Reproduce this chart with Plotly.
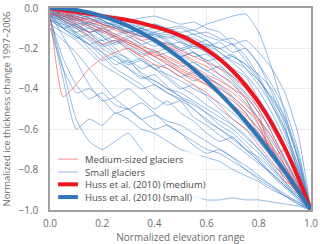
import plotly.graph_objects as go

# normalized elevation grid (0 = top, 1 = terminus)
x_grid = [round(i * 0.05, 2) for i in range(21)]

# Small glaciers: normalized ice thickness change
small_glaciers = [
    [0.00, -0.02, -0.03, -0.05, -0.07, -0.08, -0.07, -0.10, -0.12, -0.10, -0.09, -0.11, -0.08, -0.06, -0.04, -0.03, -0.12, -0.30, -0.52, -0.75, -1.00],
    [-0.05, -0.30, -0.55, -0.66, -0.70, -0.66, -0.62, -0.70, -0.78, -0.85, -0.90, -0.93, -0.95, -0.95, -0.94, -0.95, -0.95, -0.96, -0.97, -0.98, -1.00],
    [-0.05, -0.35, -0.60, -0.55, -0.58, -0.52, -0.55, -0.60, -0.62, -0.66, -0.70, -0.72, -0.74, -0.76, -0.80, -0.83, -0.86, -0.90, -0.93, -0.96, -1.00],
    [0.00, -0.01, -0.02, -0.03, -0.04, -0.05, -0.06, -0.08, -0.09, -0.11, -0.13, -0.15, -0.18, -0.22, -0.27, -0.33, -0.41, -0.52, -0.65, -0.80, -1.00],
    [-0.02, -0.03, -0.05, -0.04, -0.06, -0.09, -0.08, -0.10, -0.14, -0.13, -0.16, -0.20, -0.19, -0.24, -0.30, -0.34, -0.45, -0.55, -0.68, -0.84, -1.00],
    [-0.01, -0.04, -0.06, -0.08, -0.07, -0.10, -0.12, -0.11, -0.15, -0.18, -0.17, -0.22, -0.26, -0.25, -0.30, -0.38, -0.48, -0.58, -0.70, -0.85, -1.00],
    [-0.03, -0.05, -0.04, -0.07, -0.09, -0.08, -0.12, -0.14, -0.13, -0.17, -0.20, -0.24, -0.23, -0.28, -0.35, -0.42, -0.50, -0.62, -0.74, -0.87, -1.00],
    [0.00, -0.02, -0.05, -0.09, -0.12, -0.10, -0.14, -0.18, -0.16, -0.20, -0.24, -0.22, -0.27, -0.33, -0.37, -0.45, -0.55, -0.66, -0.76, -0.88, -1.00],
    [-0.02, -0.04, -0.06, -0.05, -0.08, -0.07, -0.06, -0.09, -0.08, -0.10, -0.12, -0.11, -0.14, -0.16, -0.15, -0.20, -0.28, -0.38, -0.50, -0.70, -1.00],
    [-0.04, -0.06, -0.05, -0.08, -0.10, -0.09, -0.12, -0.10, -0.08, -0.11, -0.10, -0.13, -0.16, -0.20, -0.18, -0.24, -0.34, -0.46, -0.60, -0.78, -1.00],
    [-0.03, -0.10, -0.14, -0.18, -0.16, -0.22, -0.25, -0.30, -0.28, -0.34, -0.39, -0.43, -0.48, -0.52, -0.58, -0.64, -0.70, -0.77, -0.84, -0.92, -1.00],
    [-0.06, -0.08, -0.10, -0.07, -0.06, -0.09, -0.12, -0.10, -0.13, -0.12, -0.15, -0.18, -0.16, -0.22, -0.26, -0.30, -0.36, -0.45, -0.56, -0.74, -1.00],
    [-0.04, -0.07, -0.13, -0.20, -0.26, -0.24, -0.30, -0.35, -0.33, -0.39, -0.44, -0.47, -0.52, -0.58, -0.62, -0.68, -0.75, -0.82, -0.88, -0.94, -1.00],
    [-0.04, -0.08, -0.12, -0.10, -0.14, -0.18, -0.16, -0.20, -0.24, -0.22, -0.26, -0.30, -0.34, -0.38, -0.44, -0.50, -0.58, -0.68, -0.78, -0.89, -1.00],
    [-0.06, -0.10, -0.08, -0.12, -0.16, -0.14, -0.18, -0.22, -0.26, -0.30, -0.34, -0.32, -0.37, -0.42, -0.48, -0.55, -0.62, -0.70, -0.80, -0.90, -1.00],
    [-0.02, -0.06, -0.10, -0.15, -0.20, -0.24, -0.28, -0.26, -0.30, -0.33, -0.36, -0.40, -0.43, -0.47, -0.52, -0.58, -0.66, -0.74, -0.83, -0.92, -1.00],
    [-0.05, -0.25, -0.38, -0.45, -0.42, -0.48, -0.50, -0.47, -0.52, -0.58, -0.62, -0.66, -0.70, -0.72, -0.76, -0.80, -0.85, -0.89, -0.93, -0.97, -1.00],
    [-0.08, -0.12, -0.16, -0.22, -0.28, -0.32, -0.36, -0.40, -0.38, -0.42, -0.45, -0.48, -0.52, -0.56, -0.60, -0.66, -0.72, -0.79, -0.86, -0.93, -1.00],
    [-0.01, -0.03, -0.04, -0.03, -0.05, -0.04, -0.06, -0.05, -0.04, -0.06, -0.08, -0.07, -0.10, -0.12, -0.18, -0.26, -0.35, -0.48, -0.62, -0.80, -1.00],
    [-0.03, -0.07, -0.09, -0.12, -0.10, -0.13, -0.11, -0.14, -0.12, -0.15, -0.13, -0.16, -0.19, -0.17, -0.22, -0.20, -0.28, -0.42, -0.58, -0.82, -1.00],
    [-0.02, -0.05, -0.08, -0.07, -0.11, -0.14, -0.12, -0.16, -0.19, -0.17, -0.21, -0.19, -0.22, -0.26, -0.24, -0.28, -0.36, -0.44, -0.54, -0.72, -1.00],
    [-0.06, -0.10, -0.15, -0.13, -0.18, -0.23, -0.27, -0.25, -0.30, -0.35, -0.40, -0.38, -0.44, -0.50, -0.55, -0.60, -0.66, -0.74, -0.82, -0.91, -1.00],
    [-0.01, -0.03, -0.08, -0.12, -0.18, -0.16, -0.21, -0.26, -0.30, -0.28, -0.32, -0.36, -0.34, -0.39, -0.45, -0.52, -0.60, -0.70, -0.79, -0.89, -1.00],
    [-0.03, -0.06, -0.09, -0.14, -0.19, -0.17, -0.14, -0.18, -0.22, -0.20, -0.24, -0.22, -0.26, -0.30, -0.36, -0.43, -0.52, -0.60, -0.70, -0.84, -1.00],
    [0.00, -0.04, -0.06, -0.09, -0.13, -0.17, -0.15, -0.12, -0.16, -0.19, -0.23, -0.27, -0.31, -0.29, -0.34, -0.40, -0.47, -0.56, -0.68, -0.82, -1.00],
    [-0.01, -0.02, -0.04, -0.06, -0.05, -0.07, -0.09, -0.11, -0.10, -0.12, -0.14, -0.13, -0.12, -0.15, -0.18, -0.16, -0.22, -0.30, -0.42, -0.62, -1.00],
    [-0.02, -0.04, -0.03, -0.05, -0.08, -0.10, -0.09, -0.12, -0.15, -0.14, -0.17, -0.19, -0.18, -0.20, -0.24, -0.28, -0.33, -0.40, -0.55, -0.75, -1.00],
    [0.00, -0.03, -0.05, -0.04, -0.06, -0.09, -0.11, -0.14, -0.13, -0.16, -0.20, -0.18, -0.22, -0.25, -0.23, -0.30, -0.38, -0.48, -0.60, -0.78, -1.00],
    [-0.10, -0.30, -0.42, -0.40, -0.45, -0.52, -0.50, -0.55, -0.60, -0.58, -0.62, -0.68, -0.72, -0.70, -0.74, -0.80, -0.84, -0.88, -0.92, -0.96, -1.00],
    [-0.04, -0.10, -0.14, -0.18, -0.22, -0.26, -0.30, -0.34, -0.36, -0.40, -0.42, -0.46, -0.50, -0.54, -0.58, -0.63, -0.70, -0.78, -0.86, -0.93, -1.00],
    [-0.03, -0.05, -0.09, -0.12, -0.11, -0.15, -0.19, -0.23, -0.21, -0.26, -0.29, -0.27, -0.31, -0.35, -0.40, -0.47, -0.55, -0.64, -0.75, -0.87, -1.00],
    [-0.10, -0.16, -0.22, -0.30, -0.38, -0.45, -0.50, -0.55, -0.53, -0.56, -0.58, -0.62, -0.66, -0.70, -0.74, -0.78, -0.83, -0.88, -0.93, -0.97, -1.00],
    [-0.03, -0.14, -0.26, -0.38, -0.46, -0.44, -0.40, -0.45, -0.50, -0.46, -0.52, -0.56, -0.62, -0.66, -0.64, -0.70, -0.76, -0.83, -0.89, -0.95, -1.00],
    [-0.02, -0.05, -0.07, -0.10, -0.14, -0.20, -0.26, -0.32, -0.36, -0.40, -0.44, -0.50, -0.55, -0.60, -0.64, -0.70, -0.76, -0.82, -0.88, -0.94, -1.00],
    [-0.05, -0.09, -0.13, -0.18, -0.24, -0.30, -0.34, -0.38, -0.44, -0.48, -0.46, -0.50, -0.56, -0.60, -0.65, -0.70, -0.74, -0.80, -0.87, -0.94, -1.00],
    [-0.01, -0.06, -0.12, -0.16, -0.22, -0.28, -0.26, -0.33, -0.38, -0.42, -0.46, -0.54, -0.58, -0.63, -0.67, -0.72, -0.77, -0.82, -0.88, -0.94, -1.00],
]

# Medium-sized glaciers
medium_glaciers = [
    [-0.02, -0.44, -0.38, -0.30, -0.25, -0.22, -0.20, -0.24, -0.28, -0.30, -0.34, -0.38, -0.42, -0.48, -0.55, -0.60, -0.68, -0.76, -0.84, -0.92, -1.00],
    [0.00, -0.02, -0.04, -0.06, -0.08, -0.10, -0.12, -0.14, -0.16, -0.18, -0.21, -0.24, -0.27, -0.30, -0.34, -0.40, -0.50, -0.62, -0.75, -0.88, -1.00],
    [-0.01, -0.03, -0.06, -0.05, -0.08, -0.11, -0.13, -0.16, -0.15, -0.19, -0.22, -0.26, -0.29, -0.33, -0.38, -0.45, -0.58, -0.72, -0.80, -0.90, -1.00],
    [0.00, -0.05, -0.08, -0.12, -0.10, -0.14, -0.18, -0.21, -0.24, -0.28, -0.32, -0.35, -0.38, -0.42, -0.46, -0.52, -0.62, -0.70, -0.82, -0.92, -1.00],
    [-0.02, -0.06, -0.10, -0.14, -0.18, -0.16, -0.20, -0.24, -0.22, -0.26, -0.30, -0.33, -0.36, -0.40, -0.44, -0.50, -0.56, -0.68, -0.86, -0.88, -1.00],
    [-0.03, -0.04, -0.07, -0.09, -0.12, -0.15, -0.17, -0.20, -0.23, -0.25, -0.28, -0.32, -0.35, -0.38, -0.42, -0.48, -0.55, -0.64, -0.78, -0.90, -1.00],
    [-0.01, -0.02, -0.05, -0.07, -0.09, -0.13, -0.16, -0.19, -0.21, -0.24, -0.27, -0.29, -0.33, -0.36, -0.40, -0.44, -0.52, -0.74, -0.70, -0.86, -1.00],
    [0.00, -0.03, -0.05, -0.08, -0.11, -0.14, -0.17, -0.20, -0.24, -0.27, -0.31, -0.34, -0.38, -0.43, -0.48, -0.53, -0.60, -0.69, -0.78, -0.89, -1.00],
]

# Huss et al. (2010) parameterizations
huss_x = x_grid
huss_medium = [0.00, -0.010, -0.020, -0.029, -0.039, -0.050, -0.061, -0.075, -0.092, -0.112, -0.137, -0.168, -0.206, -0.254, -0.312, -0.383, -0.469, -0.572, -0.694, -0.837, -1.00]
huss_small = [0.00, -0.0025, -0.01, -0.0225, -0.04, -0.0625, -0.09, -0.1225, -0.16, -0.2025, -0.25, -0.3025, -0.36, -0.4225, -0.49, -0.5625, -0.64, -0.7225, -0.81, -0.9025, -1.00]

BLUE_THIN = "rgba(60,130,200,0.55)"
RED_THIN = "rgba(245,70,70,0.6)"
RED_THICK = "#f0141e"
BLUE_THICK = "#3075b6"
FONT = "Open Sans"

fig = go.Figure()
for ys in small_glaciers:
    fig.add_trace(go.Scatter(x=x_grid, y=ys, mode="lines", showlegend=False,
                             line=dict(color=BLUE_THIN, width=1, shape="spline", smoothing=0.5),
                             hoverinfo="skip"))
for ys in medium_glaciers:
    fig.add_trace(go.Scatter(x=x_grid, y=ys, mode="lines", showlegend=False,
                             line=dict(color=RED_THIN, width=1, shape="spline", smoothing=0.5),
                             hoverinfo="skip"))
fig.add_trace(go.Scatter(x=huss_x, y=huss_medium, mode="lines", showlegend=False,
                         line=dict(color=RED_THICK, width=4, shape="spline")))
fig.add_trace(go.Scatter(x=huss_x, y=huss_small, mode="lines", showlegend=False,
                         line=dict(color=BLUE_THICK, width=4, shape="spline")))

# manual legend
legend_labels = ["Medium-sized glaciers", "Small glaciers", "Huss et al. (2010) (medium)", "Huss et al. (2010) (small)"]
legend_colors = [RED_THIN, BLUE_THIN, RED_THICK, BLUE_THICK]
legend_widths = [1, 1, 4, 4]
legend_rows = [0.252, 0.188, 0.127, 0.064]

shapes = [dict(type="rect", xref="x domain", yref="y domain", x0=0.012, x1=0.58, y0=0.03, y1=0.29,
               fillcolor="rgba(255,255,255,0.8)", line=dict(width=0), layer="above")]
annotations = []
for lab, col, w, yr in zip(legend_labels, legend_colors, legend_widths, legend_rows):
    shapes.append(dict(type="line", xref="x domain", yref="y domain", x0=0.031, x1=0.107, y0=yr, y1=yr,
                       line=dict(color=col, width=w), layer="above"))
    annotations.append(dict(xref="x domain", yref="y domain", x=0.126, y=yr, text=lab, showarrow=False,
                            xanchor="left", yanchor="middle", font=dict(family=FONT, size=9.5, color="#4a4a4a")))

fig.update_layout(
    width=320, height=244,
    margin=dict(l=50, r=9, t=8, b=34),
    paper_bgcolor="white", plot_bgcolor="white",
    font=dict(family=FONT, size=10, color="#6b6b6b"),
    shapes=shapes, annotations=annotations,
    showlegend=False,
)
fig.update_xaxes(range=[0, 1], tickvals=[0, 0.2, 0.4, 0.6, 0.8, 1.0], tickformat=".1f",
                 showgrid=True, gridcolor="#ececec", gridwidth=1, zeroline=False,
                 showline=True, linecolor="#a0a0a0", linewidth=1.5, mirror=True,
                 ticks="", ticklabelstandoff=3, automargin=False,
                 title=dict(text="Normalized elevation range", standoff=6, font=dict(size=10, color="#6b6b6b")))
fig.update_yaxes(range=[-1, 0], tickvals=[0, -0.2, -0.4, -0.6, -0.8, -1.0], tickformat=".1f",
                 showgrid=True, gridcolor="#ececec", gridwidth=1, zeroline=False,
                 showline=True, linecolor="#a0a0a0", linewidth=1.5, mirror=True,
                 ticks="", ticklabelstandoff=8, automargin=False,
                 title=dict(text="Normalized ice thickness change 1997–2006", standoff=6, font=dict(size=9.5, color="#6b6b6b")))

fig.write_html("out.html", config={"displayModeBar": False},
               post_script="document.body.style.margin='0';")
